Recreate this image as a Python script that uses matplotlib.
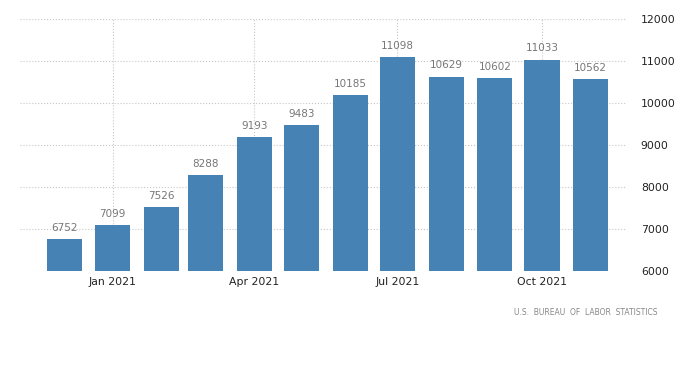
import datetime as dt
import matplotlib.pyplot as plt
import matplotlib.dates as mdates

# monthly values, Dec 2020 - Nov 2021
months = ["2020-12", "2021-01", "2021-02", "2021-03", "2021-04", "2021-05",
          "2021-06", "2021-07", "2021-08", "2021-09", "2021-10", "2021-11"]
values = [6752, 7099, 7526, 8288, 9193, 9483, 10185, 11098, 10629, 10602, 11033, 10562]
tick_months = ["2021-01", "2021-04", "2021-07", "2021-10"]
tick_labels = ["Jan 2021", "Apr 2021", "Jul 2021", "Oct 2021"]
source = "U.S.  BUREAU  OF  LABOR  STATISTICS"

def to_date(s):
    y, m = s.split("-")
    return dt.date(int(y), int(m), 1)

dates = [to_date(m) for m in months]

fig = plt.figure(figsize=(7, 3.67), dpi=100)
ax = fig.add_axes([0.0286, 0.2616, 0.867, 0.6864])

ax.bar(dates, values, width=22.3, color="#4682b4", zorder=3)

for d, v in zip(dates, values):
    ax.annotate(str(v), (mdates.date2num(d), v), xytext=(0, 4.5),
                textcoords="offset points", ha="center", va="bottom",
                fontsize=7.5, color="#777777")

ax.set_ylim(6000, 12000)
ax.set_yticks(range(6000, 12001, 1000))
ax.set_xlim(dt.date(2020, 11, 3), dt.date(2021, 11, 24))
ax.set_xticks([to_date(m) for m in tick_months])
ax.set_xticklabels(tick_labels)

ax.yaxis.tick_right()
ax.tick_params(axis="both", length=0, labelsize=7.8, colors="#222222")
ax.tick_params(axis="y", pad=10)
ax.tick_params(axis="x", pad=4)

ax.grid(True, linestyle=":", color="#c8c8c8", linewidth=0.8, zorder=0)
for s in ax.spines.values():
    s.set_visible(False)

fig.text(0.94, 0.148, source, ha="right", va="center", fontsize=5.5, color="#888888")

fig.savefig("out.png", dpi=100)
